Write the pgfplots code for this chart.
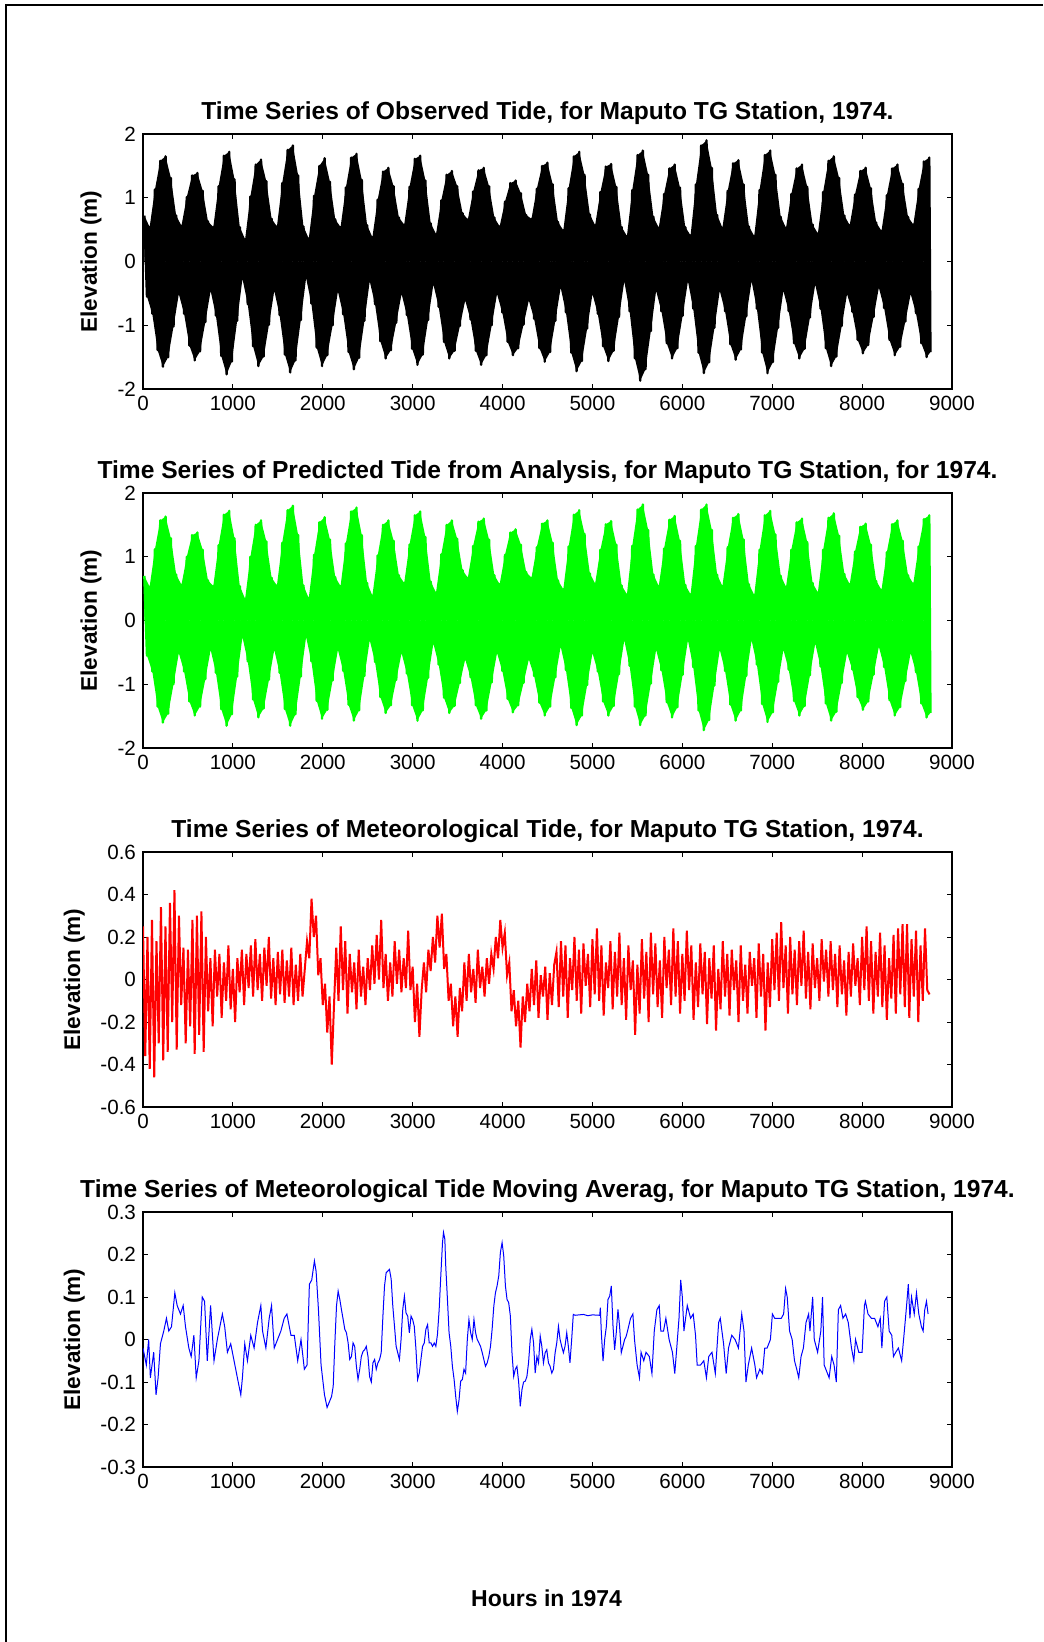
\documentclass[border=0pt]{standalone}
\usepackage{pgfplots}
\usepackage{pgfplotstable}
\pgfplotsset{compat=1.18}
\usepackage{fontspec}
\setmainfont{Liberation Sans}
\pgfplotstableread[row sep=\\]{t o p\\
15 0.72 0.70\\ 44.5 -0.55 -0.55\\
74 0.54 0.53\\ 103.5 -0.82 -0.80\\ 133 1.13 1.12\\ 162.5 -1.39 -1.35\\ 192 1.58 1.57\\ 221.5 -1.65 -1.60\\ 251 1.65 1.63\\ 280.5 -1.50 -1.46\\ 310 1.31 1.29\\ 339.5 -1.02 -1.00\\ 369 0.72 0.72\\ 398.5 -0.51 -0.51\\
428 0.56 0.56\\ 457.5 -0.82 -0.80\\ 487 1.01 1.00\\ 516.5 -1.32 -1.27\\ 546 1.35 1.34\\ 575.5 -1.55 -1.49\\ 605 1.39 1.38\\ 634.5 -1.41 -1.35\\ 664 1.11 1.11\\ 693.5 -0.95 -0.92\\ 723 0.63 0.63\\ 752.5 -0.46 -0.46\\
782 0.54 0.54\\ 811.5 -0.85 -0.82\\ 841 1.18 1.18\\ 870.5 -1.48 -1.39\\ 900 1.66 1.66\\ 929.5 -1.77 -1.65\\ 959 1.72 1.72\\ 988.5 -1.57 -1.47\\ 1018 1.29 1.29\\ 1047.5 -0.93 -0.88\\ 1077 0.54 0.54\\ 1106.5 -0.27 -0.26\\
1136 0.35 0.34\\ 1165.5 -0.67 -0.64\\ 1195 1.02 1.00\\ 1224.5 -1.33 -1.24\\ 1254 1.52 1.50\\ 1283.5 -1.64 -1.52\\ 1313 1.60 1.57\\ 1342.5 -1.49 -1.38\\ 1372 1.26 1.24\\ 1401.5 -0.99 -0.93\\ 1431 0.67 0.67\\ 1460.5 -0.46 -0.46\\
1490 0.55 0.55\\ 1519.5 -0.84 -0.82\\ 1549 1.23 1.22\\ 1578.5 -1.46 -1.39\\ 1608 1.75 1.73\\ 1637.5 -1.74 -1.65\\ 1667 1.82 1.80\\ 1696.5 -1.55 -1.47\\ 1726 1.35 1.34\\ 1755.5 -0.92 -0.88\\ 1785 0.55 0.55\\ 1814.5 -0.26 -0.26\\
1844 0.36 0.35\\ 1873.5 -0.66 -0.64\\ 1903 1.03 1.03\\ 1932.5 -1.35 -1.26\\ 1962 1.50 1.54\\ 1991.5 -1.64 -1.54\\ 2021 1.62 1.62\\ 2050.5 -1.47 -1.40\\ 2080 1.25 1.27\\ 2109.5 -1.00 -0.94\\ 2139 0.66 0.68\\ 2168.5 -0.47 -0.46\\
2198 0.54 0.54\\ 2227.5 -0.83 -0.79\\ 2257 1.16 1.21\\ 2286.5 -1.42 -1.32\\ 2316 1.63 1.71\\ 2345.5 -1.69 -1.57\\ 2375 1.69 1.77\\ 2404.5 -1.51 -1.41\\ 2434 1.28 1.34\\ 2463.5 -0.93 -0.87\\ 2493 0.57 0.59\\ 2522.5 -0.31 -0.31\\
2552 0.38 0.39\\ 2581.5 -0.67 -0.65\\ 2611 0.97 1.02\\ 2640.5 -1.25 -1.20\\ 2670 1.41 1.50\\ 2699.5 -1.52 -1.45\\ 2729 1.47 1.57\\ 2758.5 -1.39 -1.33\\ 2788 1.18 1.25\\ 2817.5 -0.96 -0.93\\ 2847 0.69 0.71\\ 2876.5 -0.51 -0.51\\
2906 0.58 0.59\\ 2935.5 -0.84 -0.83\\ 2965 1.17 1.19\\ 2994.5 -1.37 -1.33\\ 3024 1.61 1.65\\ 3053.5 -1.62 -1.57\\ 3083 1.66 1.71\\ 3112.5 -1.46 -1.41\\ 3142 1.27 1.31\\ 3171.5 -0.92 -0.90\\ 3201 0.60 0.61\\ 3230.5 -0.36 -0.36\\
3260 0.43 0.44\\ 3289.5 -0.71 -0.69\\ 3319 0.96 1.04\\ 3348.5 -1.26 -1.21\\ 3378 1.36 1.50\\ 3407.5 -1.52 -1.45\\ 3437 1.42 1.57\\ 3466.5 -1.40 -1.34\\ 3496 1.18 1.28\\ 3525.5 -1.01 -0.98\\ 3555 0.76 0.79\\ 3584.5 -0.61 -0.61\\
3614 0.66 0.67\\ 3643.5 -0.91 -0.89\\ 3673 1.10 1.17\\ 3702.5 -1.40 -1.33\\ 3732 1.43 1.55\\ 3761.5 -1.62 -1.54\\ 3791 1.47 1.60\\ 3820.5 -1.47 -1.41\\ 3850 1.18 1.27\\ 3879.5 -1.00 -0.97\\ 3909 0.69 0.71\\ 3938.5 -0.51 -0.51\\
3968 0.55 0.57\\ 3997.5 -0.80 -0.79\\ 4027 0.94 1.03\\ 4056.5 -1.26 -1.23\\ 4086 1.23 1.38\\ 4115.5 -1.47 -1.44\\ 4145 1.27 1.43\\ 4174.5 -1.36 -1.33\\ 4204 1.07 1.19\\ 4233.5 -0.99 -0.98\\ 4263 0.73 0.76\\ 4292.5 -0.61 -0.61\\
4322 0.67 0.67\\ 4351.5 -0.90 -0.87\\ 4381 1.14 1.15\\ 4410.5 -1.36 -1.29\\ 4440 1.50 1.52\\ 4469.5 -1.57 -1.49\\ 4499 1.55 1.57\\ 4528.5 -1.42 -1.35\\ 4558 1.21 1.22\\ 4587.5 -0.93 -0.89\\ 4617 0.62 0.63\\ 4646.5 -0.41 -0.41\\
4676 0.49 0.49\\ 4705.5 -0.80 -0.78\\ 4735 1.15 1.16\\ 4764.5 -1.43 -1.37\\ 4794 1.65 1.66\\ 4823.5 -1.72 -1.64\\ 4853 1.72 1.73\\ 4882.5 -1.56 -1.49\\ 4912 1.36 1.36\\ 4941.5 -1.05 -1.01\\ 4971 0.74 0.74\\ 5000.5 -0.51 -0.51\\
5030 0.57 0.58\\ 5059.5 -0.82 -0.80\\ 5089 1.09 1.11\\ 5118.5 -1.33 -1.27\\ 5148 1.49 1.51\\ 5177.5 -1.56 -1.49\\ 5207 1.53 1.56\\ 5236.5 -1.40 -1.34\\ 5266 1.17 1.19\\ 5295.5 -0.87 -0.84\\ 5325 0.54 0.55\\ 5354.5 -0.31 -0.31\\
5384 0.40 0.41\\ 5413.5 -0.78 -0.71\\ 5443 1.12 1.17\\ 5472.5 -1.52 -1.35\\ 5502 1.67 1.74\\ 5531.5 -1.87 -1.64\\ 5561 1.74 1.82\\ 5590.5 -1.69 -1.49\\ 5620 1.36 1.42\\ 5649.5 -1.09 -0.99\\ 5679 0.70 0.72\\ 5708.5 -0.46 -0.46\\
5738 0.53 0.54\\ 5767.5 -0.78 -0.78\\ 5797 1.06 1.13\\ 5826.5 -1.28 -1.28\\ 5856 1.46 1.58\\ 5885.5 -1.52 -1.52\\ 5915 1.52 1.64\\ 5944.5 -1.36 -1.36\\ 5974 1.16 1.25\\ 6003.5 -0.85 -0.85\\ 6033 0.54 0.56\\ 6062.5 -0.31 -0.31\\
6092 0.41 0.41\\ 6121.5 -0.74 -0.73\\ 6151 1.21 1.17\\ 6180.5 -1.43 -1.41\\ 6210 1.82 1.74\\ 6239.5 -1.75 -1.72\\ 6269 1.90 1.82\\ 6298.5 -1.58 -1.56\\ 6328 1.47 1.42\\ 6357.5 -1.04 -1.02\\ 6387 0.73 0.72\\ 6416.5 -0.46 -0.46\\
6446 0.53 0.54\\ 6475.5 -0.78 -0.79\\ 6505 1.11 1.15\\ 6534.5 -1.30 -1.32\\ 6564 1.54 1.61\\ 6593.5 -1.54 -1.57\\ 6623 1.59 1.67\\ 6652.5 -1.38 -1.41\\ 6682 1.21 1.27\\ 6711.5 -0.86 -0.87\\ 6741 0.55 0.57\\ 6770.5 -0.31 -0.31\\
6800 0.40 0.40\\ 6829.5 -0.74 -0.69\\ 6859 1.12 1.11\\ 6888.5 -1.43 -1.31\\ 6918 1.67 1.65\\ 6947.5 -1.75 -1.59\\ 6977 1.74 1.72\\ 7006.5 -1.58 -1.44\\ 7036 1.36 1.35\\ 7065.5 -1.04 -0.96\\ 7095 0.70 0.70\\ 7124.5 -0.46 -0.46\\
7154 0.53 0.53\\ 7183.5 -0.78 -0.77\\ 7213 1.06 1.11\\ 7242.5 -1.28 -1.26\\ 7272 1.46 1.54\\ 7301.5 -1.52 -1.49\\ 7331 1.52 1.60\\ 7360.5 -1.37 -1.34\\ 7390 1.17 1.23\\ 7419.5 -0.88 -0.86\\ 7449 0.58 0.59\\ 7478.5 -0.36 -0.36\\
7508 0.44 0.44\\ 7537.5 -0.74 -0.72\\ 7567 1.09 1.11\\ 7596.5 -1.36 -1.30\\ 7626 1.58 1.61\\ 7655.5 -1.64 -1.57\\ 7685 1.65 1.68\\ 7714.5 -1.49 -1.43\\ 7744 1.31 1.33\\ 7773.5 -1.01 -0.98\\ 7803 0.72 0.73\\ 7832.5 -0.51 -0.51\\
7862 0.57 0.57\\ 7891.5 -0.79 -0.77\\ 7921 1.05 1.08\\ 7950.5 -1.23 -1.20\\ 7980 1.42 1.47\\ 8009.5 -1.44 -1.40\\ 8039 1.47 1.52\\ 8068.5 -1.31 -1.27\\ 8098 1.15 1.19\\ 8127.5 -0.87 -0.85\\ 8157 0.61 0.62\\ 8186.5 -0.41 -0.41\\
8216 0.48 0.48\\ 8245.5 -0.73 -0.73\\ 8275 1.04 1.07\\ 8304.5 -1.23 -1.25\\ 8334 1.46 1.51\\ 8363.5 -1.47 -1.49\\ 8393 1.52 1.57\\ 8422.5 -1.34 -1.36\\ 8452 1.22 1.25\\ 8481.5 -0.94 -0.95\\ 8511 0.70 0.71\\ 8540.5 -0.51 -0.51\\
8570 0.58 0.58\\ 8599.5 -0.81 -0.81\\ 8629 1.14 1.16\\ 8658.5 -1.28 -1.30\\ 8688 1.57 1.59\\ 8717.5 -1.50 -1.52\\ 8747 1.63 1.65\\ 8760 -1.42 -1.45\\
}\tide
\pgfplotstableread[row sep=\\]{t m\\
0 0.25\\ 25 -0.36\\ 50 0.20\\ 75 -0.42\\ 100 0.28\\ 125 -0.46\\ 150 0.18\\ 175 -0.30\\ 200 0.34\\ 225 -0.38\\ 250 0.25\\ 275 -0.34\\ 300 0.36\\ 325 -0.20\\ 350 0.42\\ 375 -0.33\\
400 0.30\\ 425 -0.12\\ 450 0.15\\ 475 -0.30\\ 500 0.14\\ 525 -0.22\\ 550 0.28\\ 575 -0.35\\ 600 0.30\\ 625 -0.26\\ 650 0.32\\ 675 -0.34\\ 700 0.20\\ 725 -0.15\\ 750 0.10\\ 775 -0.22\\ 800 0.14\\ 825 -0.08\\
850 0.12\\ 875 -0.18\\ 900 0.08\\ 925 -0.10\\ 950 0.16\\ 975 -0.14\\ 1000 0.05\\ 1025 -0.20\\ 1050 0.10\\ 1075 -0.06\\ 1100 0.14\\ 1125 -0.12\\ 1150 0.12\\ 1175 -0.04\\ 1200 0.16\\ 1225 -0.08\\ 1250 0.19\\ 1275 -0.05\\ 1300 0.12\\ 1325 -0.10\\
1350 0.15\\ 1375 -0.03\\ 1400 0.20\\ 1425 -0.09\\ 1450 0.10\\ 1475 -0.12\\ 1500 0.13\\ 1525 -0.07\\ 1550 0.14\\ 1575 -0.11\\ 1600 0.09\\ 1625 -0.08\\ 1650 0.15\\ 1675 -0.12\\ 1700 0.07\\ 1725 -0.10\\ 1750 0.12\\ 1775 -0.08\\ 1800 0.05\\
1825 0.18\\ 1850 0.10\\ 1875 0.38\\ 1900 0.20\\ 1925 0.30\\ 1950 0.02\\ 1975 0.10\\ 2000 -0.12\\ 2025 -0.02\\ 2050 -0.25\\ 2075 -0.08\\ 2100 -0.40\\ 2125 -0.12\\
2150 0.15\\ 2175 -0.10\\ 2200 0.25\\ 2225 -0.05\\ 2250 0.18\\ 2275 -0.16\\ 2300 0.12\\ 2325 -0.06\\ 2350 0.08\\ 2375 -0.14\\ 2400 0.14\\ 2425 -0.08\\ 2450 0.06\\ 2475 -0.12\\ 2500 0.10\\ 2525 -0.05\\ 2550 0.16\\ 2575 -0.02\\ 2600 0.21\\ 2625 0.00\\
2650 0.28\\ 2675 -0.04\\ 2700 0.12\\ 2725 -0.10\\ 2750 0.08\\ 2775 -0.08\\ 2800 0.18\\ 2825 -0.02\\ 2850 0.14\\ 2875 -0.06\\ 2900 0.10\\ 2925 -0.04\\ 2950 0.23\\
2975 -0.05\\ 3000 0.06\\ 3025 -0.20\\ 3050 -0.02\\ 3075 -0.27\\ 3100 -0.05\\ 3125 0.08\\ 3150 -0.06\\ 3175 0.14\\ 3200 0.04\\ 3225 0.20\\ 3250 0.08\\ 3275 0.30\\ 3300 0.15\\ 3325 0.31\\ 3350 0.05\\ 3375 0.12\\
3400 -0.10\\ 3425 -0.02\\ 3450 -0.22\\ 3475 -0.08\\ 3500 -0.27\\ 3525 -0.04\\ 3550 -0.15\\ 3575 0.08\\ 3600 -0.10\\ 3625 0.12\\ 3650 -0.06\\ 3675 0.05\\ 3700 -0.11\\ 3725 0.14\\ 3750 -0.04\\ 3775 0.06\\ 3800 -0.08\\ 3825 0.10\\ 3850 -0.02\\ 3875 0.12\\
3900 0.05\\ 3925 0.20\\ 3950 0.10\\ 3975 0.28\\ 4000 0.15\\ 4025 0.22\\ 4050 0.02\\ 4075 0.08\\ 4100 -0.15\\ 4125 -0.05\\ 4150 -0.22\\ 4175 -0.10\\ 4200 -0.32\\ 4225 -0.08\\ 4250 -0.20\\ 4275 -0.02\\
4300 -0.15\\ 4325 0.05\\ 4350 -0.12\\ 4375 0.09\\ 4400 -0.18\\ 4425 0.02\\ 4450 -0.08\\ 4475 0.06\\ 4500 -0.19\\ 4525 0.03\\ 4550 -0.12\\ 4575 0.07\\
4600 0.13\\ 4625 -0.13\\ 4650 0.18\\ 4675 -0.08\\ 4700 0.16\\ 4725 -0.18\\ 4750 0.10\\ 4775 -0.05\\ 4800 0.20\\ 4825 -0.10\\ 4850 0.14\\ 4875 -0.16\\ 4900 0.17\\ 4925 -0.03\\ 4950 0.12\\ 4975 -0.13\\
5000 0.19\\ 5025 -0.07\\ 5050 0.24\\ 5075 -0.10\\ 5100 0.16\\ 5125 -0.17\\ 5150 0.08\\ 5175 -0.04\\ 5200 0.18\\ 5225 -0.14\\ 5250 0.13\\ 5275 -0.08\\ 5300 0.22\\ 5325 -0.12\\ 5350 0.10\\ 5375 -0.19\\
5400 0.16\\ 5425 -0.05\\ 5450 0.09\\ 5475 -0.26\\ 5500 0.07\\ 5525 -0.16\\ 5550 0.19\\ 5575 -0.09\\ 5600 0.13\\ 5625 -0.20\\ 5650 0.22\\ 5675 -0.07\\ 5700 0.17\\ 5725 -0.13\\ 5750 0.09\\ 5775 -0.18\\
5800 0.20\\ 5825 -0.04\\ 5850 0.14\\ 5875 -0.12\\ 5900 0.24\\ 5925 -0.08\\ 5950 0.18\\ 5975 -0.16\\ 6000 0.12\\ 6025 -0.10\\ 6050 0.23\\ 6075 -0.05\\ 6100 0.16\\ 6125 -0.19\\ 6150 0.08\\ 6175 -0.13\\
6200 0.17\\ 6225 -0.07\\ 6250 0.13\\ 6275 -0.21\\ 6300 0.10\\ 6325 -0.09\\ 6350 0.16\\ 6375 -0.24\\ 6400 0.05\\ 6425 -0.14\\ 6450 0.18\\ 6475 -0.08\\ 6500 0.12\\ 6525 -0.17\\ 6550 0.14\\ 6575 -0.05\\
6600 0.09\\ 6625 -0.20\\ 6650 0.16\\ 6675 -0.10\\ 6700 0.07\\ 6725 -0.16\\ 6750 0.13\\ 6775 -0.03\\ 6800 0.10\\ 6825 -0.18\\ 6850 0.17\\ 6875 -0.08\\ 6900 0.12\\ 6925 -0.24\\ 6950 0.08\\ 6975 -0.13\\
7000 0.19\\ 7025 -0.05\\ 7050 0.22\\ 7075 -0.10\\ 7100 0.27\\ 7125 -0.04\\ 7150 0.16\\ 7175 -0.16\\ 7200 0.20\\ 7225 -0.07\\ 7250 0.14\\ 7275 -0.12\\ 7300 0.18\\ 7325 -0.03\\ 7350 0.23\\ 7375 -0.09\\
7400 0.13\\ 7425 -0.14\\ 7450 0.17\\ 7475 -0.04\\ 7500 0.10\\ 7525 -0.10\\ 7550 0.19\\ 7575 -0.01\\ 7600 0.14\\ 7625 -0.08\\ 7650 0.18\\ 7675 -0.05\\ 7700 0.12\\ 7725 -0.13\\ 7750 0.16\\ 7775 -0.07\\
7800 0.09\\ 7825 -0.17\\ 7850 0.13\\ 7875 -0.08\\ 7900 0.17\\ 7925 -0.03\\ 7950 0.10\\ 7975 -0.12\\ 8000 0.20\\ 8025 -0.05\\ 8050 0.25\\ 8075 -0.10\\ 8100 0.18\\ 8125 -0.16\\ 8150 0.13\\ 8175 -0.08\\
8200 0.22\\ 8225 -0.13\\ 8250 0.16\\ 8275 -0.19\\ 8300 0.10\\ 8325 -0.09\\ 8350 0.21\\ 8375 -0.16\\ 8400 0.24\\ 8425 -0.07\\ 8450 0.26\\ 8475 -0.13\\ 8500 0.26\\ 8525 -0.18\\ 8550 0.19\\ 8575 -0.08\\
8600 0.23\\ 8625 -0.20\\ 8650 0.16\\ 8675 -0.10\\ 8700 0.24\\ 8725 -0.05\\ 8750 -0.07\\
}\met
\pgfplotstableread[row sep=\\]{t a\\
0 -0.02\\ 37 -0.06\\ 63 0.0\\ 82 -0.09\\ 119 -0.03\\ 145 -0.13\\ 168 -0.09\\ 194 -0.01\\ 231 0.02\\ 261 0.05\\ 287 0.02\\ 317 0.03\\ 354 0.11\\ 380 0.08\\ 417 0.06\\ 447 0.08\\ 473 0.03\\ 510 -0.02\\ 536 -0.04\\ 566 0.01\\
592 -0.09\\ 622 -0.05\\ 659 0.10\\ 685 0.09\\ 715 -0.05\\ 752 0.08\\ 790 -0.05\\ 827 0.0\\ 883 0.06\\ 909 0.03\\ 939 -0.03\\ 976 -0.01\\ 1013 -0.05\\ 1050 -0.09\\ 1088 -0.13\\ 1106 -0.09\\ 1132 -0.01\\ 1162 -0.05\\ 1199 0.01\\ 1236 -0.02\\
1274 0.04\\ 1311 0.08\\ 1330 0.02\\ 1367 -0.02\\ 1404 0.05\\ 1430 0.08\\ 1460 -0.02\\ 1497 0.0\\ 1534 0.02\\ 1571 0.05\\ 1601 0.06\\ 1646 0.01\\ 1683 0.01\\ 1721 -0.05\\ 1758 0.0\\ 1795 -0.07\\ 1825 -0.06\\ 1851 0.13\\ 1877 0.14\\ 1907 0.185\\
1926 0.16\\ 1952 0.07\\ 1981 -0.06\\ 2019 -0.13\\ 2048 -0.16\\
2098 -0.134\\ 2116 -0.11\\ 2134 -0.01\\ 2153 0.08\\ 2171 0.114\\ 2190 0.094\\ 2208 0.07\\ 2227 0.047\\ 2245 0.024\\ 2263 0.016\\ 2282 -0.008\\ 2300 -0.047\\ 2319 -0.04\\ 2337 -0.008\\ 2355 -0.016\\ 2374 -0.063\\ 2392 -0.094\\ 2411 -0.07\\ 2429 -0.04\\ 2448 -0.028\\
2466 -0.024\\ 2484 -0.016\\ 2503 -0.04\\ 2521 -0.087\\ 2540 -0.10\\ 2558 -0.055\\ 2577 -0.047\\ 2595 -0.07\\ 2613 -0.055\\ 2632 -0.047\\ 2650 -0.031\\ 2669 0.055\\ 2687 0.126\\ 2705 0.157\\ 2724 0.161\\ 2742 0.165\\ 2761 0.142\\ 2779 0.079\\ 2798 0.031\\ 2816 -0.016\\
2834 -0.031\\ 2853 -0.047\\ 2871 0.0\\ 2890 0.071\\ 2908 0.102\\ 2926 0.063\\ 2945 0.055\\ 2963 0.016\\ 2982 0.055\\ 3000 0.047\\ 3018 0.031\\ 3037 -0.024\\ 3055 -0.094\\ 3074 -0.079\\ 3092 -0.047\\ 3110 -0.016\\ 3129 -0.008\\ 3147 0.024\\ 3166 0.035\\ 3184 -0.008\\
3203 -0.008\\ 3221 -0.016\\ 3240 -0.008\\ 3258 -0.016\\ 3276 0.012\\ 3295 0.071\\ 3313 0.15\\ 3332 0.228\\ 3343 0.252\\ 3358 0.236\\ 3368 0.173\\ 3387 0.094\\ 3405 0.016\\ 3424 -0.016\\ 3442 -0.063\\ 3461 -0.094\\ 3479 -0.134\\ 3497 -0.169\\ 3516 -0.142\\ 3534 -0.098\\
3553 -0.094\\ 3571 -0.07\\ 3589 -0.079\\ 3608 0.0\\ 3626 0.047\\ 3645 0.016\\ 3663 0.0\\ 3682 0.047\\ 3700 0.016\\ 3718 0.0\\ 3737 -0.008\\ 3755 -0.016\\ 3774 -0.031\\ 3792 -0.047\\ 3810 -0.063\\ 3829 -0.055\\ 3847 -0.04\\ 3866 -0.016\\ 3884 0.024\\ 3903 0.079\\
3921 0.11\\ 3939 0.126\\ 3958 0.15\\ 3976 0.205\\ 3995 0.228\\ 4013 0.197\\ 4032 0.126\\ 4050 0.094\\ 4068 0.087\\ 4087 0.055\\ 4105 -0.031\\ 4124 -0.087\\ 4142 -0.07\\ 4160 -0.063\\ 4179 -0.10\\ 4197 -0.157\\ 4216 -0.118\\ 4234 -0.10\\ 4253 -0.098\\ 4271 -0.087\\
4289 -0.055\\ 4308 0.0\\ 4326 0.024\\ 4345 -0.008\\ 4363 -0.079\\ 4382 -0.04\\ 4400 -0.055\\ 4419 0.008\\ 4437 -0.016\\ 4455 -0.055\\ 4474 -0.031\\ 4492 -0.024\\ 4511 -0.055\\ 4529 -0.063\\ 4548 -0.079\\ 4566 -0.07\\ 4585 -0.031\\ 4603 -0.008\\ 4622 0.031\\ 4640 0.0\\
4658 -0.016\\ 4677 -0.031\\ 4695 -0.016\\ 4714 0.016\\ 4732 -0.016\\ 4750 -0.055\\ 4769 0.0\\ 4787 0.059\\ 4806 0.057\\ 4900 0.059\\ 4950 0.056\\ 5000 0.058\\ 5081 0.057\\ 5088 0.075\\ 5099 0.016\\ 5118 -0.051\\ 5136 0.0\\ 5155 0.031\\ 5173 0.094\\ 5192 0.102\\
5210 0.126\\ 5229 0.031\\ 5247 -0.024\\ 5265 0.016\\ 5284 0.071\\ 5302 0.031\\ 5321 -0.031\\ 5339 -0.016\\ 5358 0.0\\ 5376 0.008\\ 5395 0.024\\
5424 0.05\\ 5450 0.06\\ 5468 0.0\\ 5497 -0.06\\ 5523 -0.09\\ 5541 -0.03\\
5571 -0.05\\ 5596 -0.03\\ 5633 -0.04\\ 5662 -0.08\\ 5688 0.02\\ 5717 0.07\\ 5743 0.08\\ 5761 0.02\\ 5791 0.02\\ 5817 0.05\\ 5853 0.0\\ 5890 -0.03\\ 5916 -0.08\\ 5938 -0.02\\ 5963 0.05\\ 5982 0.14\\ 6000 0.10\\ 6018 0.02\\ 6055 0.08\\ 6092 0.05\\
6121 0.06\\ 6147 0.01\\ 6165 -0.06\\ 6202 -0.06\\ 6239 -0.05\\ 6268 -0.09\\ 6294 -0.04\\ 6330 -0.03\\ 6367 -0.08\\ 6404 0.04\\ 6422 0.05\\ 6459 -0.01\\ 6488 -0.08\\ 6514 -0.02\\ 6550 0.01\\ 6587 0.0\\ 6624 -0.02\\ 6661 0.06\\ 6686 0.02\\ 6708 -0.10\\
6734 -0.06\\ 6771 -0.02\\ 6807 -0.06\\ 6826 -0.09\\ 6862 -0.07\\ 6892 -0.08\\ 6917 -0.02\\ 6943 -0.02\\ 6980 0.0\\ 7002 0.06\\ 7028 0.05\\ 7064 0.05\\ 7101 0.05\\ 7127 0.06\\ 7149 0.12\\ 7167 0.10\\ 7193 0.02\\ 7222 0.0\\ 7248 -0.05\\ 7273 -0.07\\
7295 -0.09\\ 7321 -0.04\\ 7347 -0.02\\ 7376 0.04\\ 7405 0.06\\ 7420 0.02\\ 7450 0.10\\ 7468 0.0\\ 7505 -0.03\\ 7541 0.02\\ 7560 0.10\\ 7578 -0.06\\ 7615 -0.08\\ 7633 -0.09\\ 7662 -0.04\\ 7688 -0.06\\ 7713 -0.10\\ 7736 0.07\\ 7761 0.08\\ 7787 0.05\\
7817 0.06\\ 7846 0.04\\ 7882 -0.02\\ 7908 -0.05\\ 7927 0.0\\ 7963 -0.03\\ 8000 -0.03\\ 8026 0.08\\ 8037 0.09\\ 8066 0.06\\ 8103 0.05\\ 8139 0.05\\ 8176 0.03\\ 8202 0.05\\ 8220 -0.02\\ 8250 0.09\\ 8275 0.10\\ 8301 0.02\\ 8330 0.01\\ 8349 -0.04\\
8374 -0.03\\ 8404 -0.02\\ 8440 -0.05\\ 8470 0.02\\ 8495 0.08\\ 8514 0.13\\ 8532 0.05\\ 8550 0.10\\ 8580 0.06\\ 8605 0.11\\ 8631 0.06\\ 8660 0.03\\ 8679 0.02\\ 8697 0.07\\ 8716 0.09\\ 8734 0.06\\
}\mavg
\pgfplotsset{
  panel/.style={
    scale only axis, width=404.5pt, height=127.5pt, anchor=south west,
    xmin=0, xmax=9000,
    xtick={0,1000,2000,3000,4000,5000,6000,7000,8000,9000},
    xticklabels={0,1000,2000,3000,4000,5000,6000,7000,8000,9000},
    tick align=inside, major tick length=2.5pt,
    axis line style={black, line width=0.6pt},
    every tick/.style={black, line width=0.5pt},
    tick label style={font=\fontsize{10.3}{12}\selectfont},
    title style={font=\bfseries\fontsize{12.3}{14}\selectfont, at={(0.5,1)}, anchor=base, yshift=1.5pt, inner sep=0pt},
    ylabel style={font=\bfseries\fontsize{11.3}{13}\selectfont, at={(axis description cs:-0.0643,0.5)}, anchor=center},
    ylabel={Elevation (m)},
  },
  evenrows/.style={x filter/.code={\ifodd\coordindex\def\pgfmathresult{}\fi}},
  oddrows/.style={x filter/.code={\ifodd\coordindex\else\def\pgfmathresult{}\fi}},
}
\colorlet{tgreen}{rgb,255:red,0;green,255;blue,0}
\begin{document}%
\begin{tikzpicture}
\path[use as bounding box] (0pt,0pt) rectangle (521.5pt,-821pt);
\draw[line width=1pt] (3pt,-821pt) -- (3pt,-2.5pt) -- (521.5pt,-2.5pt);

\begin{axis}[panel, at={(71.5pt,-194.5pt)}, ymin=-2, ymax=2,
  ytick={-2,-1,0,1,2}, yticklabels={-2,-1,0,1,2},
  title={Time Series of Observed Tide, for Maputo TG Station, 1974.}]
\addplot[draw=none, fill=black, evenrows] table[x=t, y=o] {\tide} \closedcycle;
\addplot[draw=none, fill=black, oddrows] table[x=t, y=o] {\tide} \closedcycle;
\addplot[black, line width=1.2pt, line join=round] table[x=t, y=o] {\tide};
\end{axis}

\begin{axis}[panel, at={(71.5pt,-374pt)}, ymin=-2, ymax=2,
  ytick={-2,-1,0,1,2}, yticklabels={-2,-1,0,1,2},
  title={Time Series of Predicted Tide from Analysis, for Maputo TG Station, for 1974.}]
\addplot[draw=none, fill=tgreen, evenrows] table[x=t, y=p] {\tide} \closedcycle;
\addplot[draw=none, fill=tgreen, oddrows] table[x=t, y=p] {\tide} \closedcycle;
\addplot[tgreen, line width=1.2pt, line join=round] table[x=t, y=p] {\tide};
\end{axis}

\begin{axis}[panel, at={(71.5pt,-553.5pt)}, ymin=-0.6, ymax=0.6,
  ytick={-0.6,-0.4,-0.2,0,0.2,0.4,0.6}, yticklabels={-0.6,-0.4,-0.2,0,0.2,0.4,0.6},
  ylabel style={at={(axis description cs:-0.085,0.5)}},
  title={Time Series of Meteorological Tide, for Maputo TG Station, 1974.}]
\addplot[red, line width=1pt] table[x=t, y=m] {\met};
\end{axis}

\begin{axis}[panel, at={(71.5pt,-733.5pt)}, ymin=-0.3, ymax=0.3,
  ytick={-0.3,-0.2,-0.1,0,0.1,0.2,0.3}, yticklabels={-0.3,-0.2,-0.1,0,0.1,0.2,0.3},
  ylabel style={at={(axis description cs:-0.085,0.5)}},
  title={Time Series of Meteorological Tide Moving Averag, for Maputo TG Station, 1974.}]
\addplot[blue, line width=0.5pt] table[x=t, y=a] {\mavg};
\end{axis}

\node[anchor=base, font=\bfseries\fontsize{11.5}{13}\selectfont] at (273.3pt,-803pt) {Hours in 1974};
\end{tikzpicture}%
\end{document}
